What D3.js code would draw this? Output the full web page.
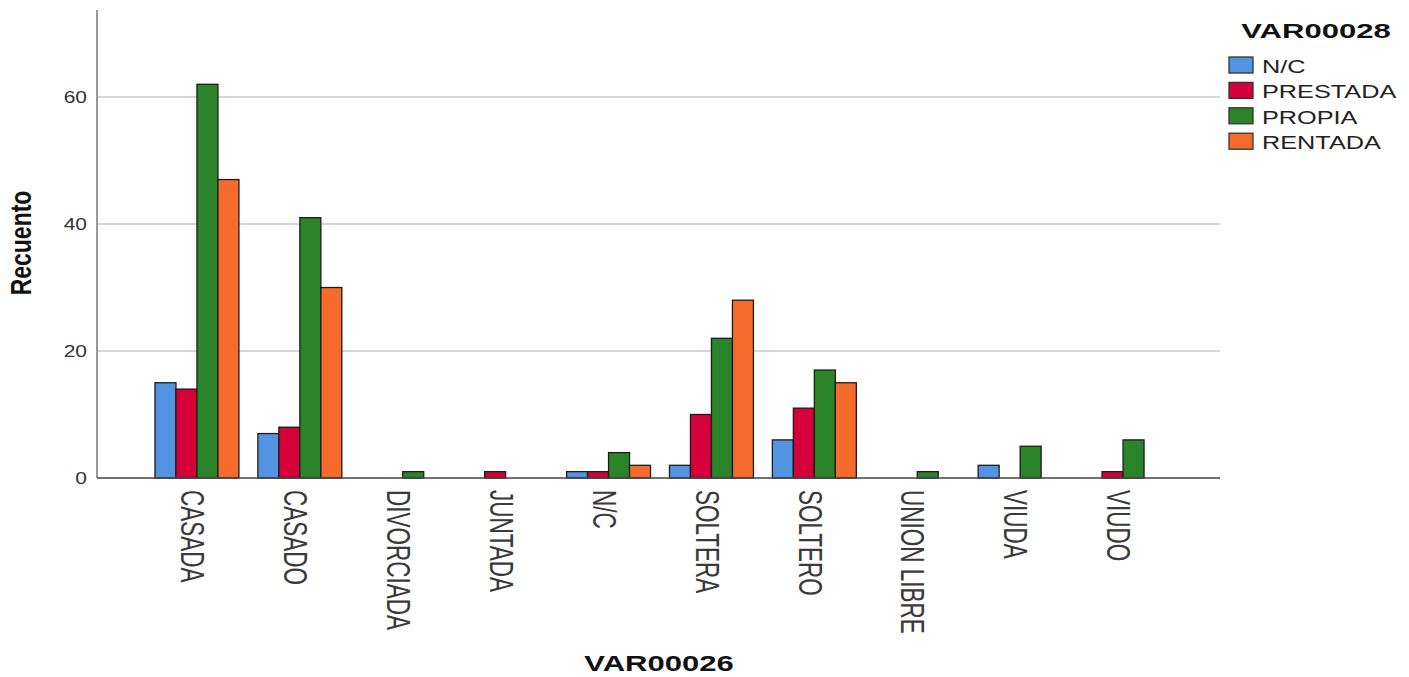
<!DOCTYPE html>
<html lang="en">
<head>
  <meta charset="UTF-8">
  <title>VAR00026 x VAR00028</title>
  <script src="https://d3js.org/d3.v7.min.js"></script>
  <style>
    body { margin: 0; background: #fff; }
    svg { display: block; font-family: "Liberation Sans", Arial, sans-serif; }
    .grid { stroke: #c8c8c8; stroke-width: 1.5; }
    .tick-label { fill: #333; font-size: 16px; }
    .cat-label { fill: #3a3a3a; font-size: 22.5px; }
    .bar { stroke: #1c1c1c; stroke-width: 1.3; }
  </style>
</head>
<body>
  <svg width="1409" height="677"></svg>
  <script>
    // data
    const categories = ["CASADA", "CASADO", "DIVORCIADA", "JUNTADA", "N/C", "SOLTERA", "SOLTERO", "UNION LIBRE", "VIUDA", "VIUDO"];
    const seriesNames = ["N/C", "PRESTADA", "PROPIA", "RENTADA"];
    const nc       = [15, 7, 0, 0, 1, 2, 6, 0, 2, 0];
    const prestada = [14, 8, 0, 1, 1, 10, 11, 0, 0, 1];
    const propia   = [62, 41, 1, 0, 4, 22, 17, 1, 5, 6];
    const rentada  = [47, 30, 0, 0, 2, 28, 15, 0, 0, 0];
    const yTicks = [0, 20, 40, 60];
    const colors = ["#5294e2", "#d5003a", "#2b842a", "#f46b2b"];

    const seriesValues = [nc, prestada, propia, rentada];

    const svg = d3.select("svg");

    // plot area
    const plotLeft = 97, plotRight = 1220, plotTop = 10, plotBottom = 478;

    const y = d3.scaleLinear().domain([0, 73.7]).range([plotBottom, plotTop]);

    const x0 = d3.scaleBand()
      .domain(categories)
      .range([145.5, 1174.5])
      .paddingInner(0.184)
      .paddingOuter(0.092);

    const x1 = d3.scaleBand()
      .domain(seriesNames)
      .range([0, x0.bandwidth()]);

    const color = d3.scaleOrdinal().domain(seriesNames).range(colors);

    // gridlines
    svg.append("g")
      .selectAll("line")
      .data(yTicks.filter(d => d > 0))
      .join("line")
      .attr("class", "grid")
      .attr("x1", plotLeft).attr("x2", plotRight)
      .attr("y1", d => y(d)).attr("y2", d => y(d));

    // y axis line
    svg.append("line")
      .attr("x1", plotLeft).attr("x2", plotLeft)
      .attr("y1", plotTop).attr("y2", plotBottom)
      .attr("stroke", "#999").attr("stroke-width", 2);

    // y tick labels (stretched like the original export)
    svg.append("g")
      .selectAll("text")
      .data(yTicks)
      .join("text")
      .attr("class", "tick-label")
      .attr("text-anchor", "end")
      .attr("transform", d => `translate(87,${y(d) + 6}) scale(1.31,1)`)
      .text(d => d);

    // bars
    const rows = categories.map((c, i) => ({
      cat: c,
      vals: seriesNames.map((s, j) => ({ key: s, value: seriesValues[j][i] }))
    }));

    svg.append("g")
      .selectAll("g")
      .data(rows)
      .join("g")
      .attr("transform", d => `translate(${x0(d.cat)},0)`)
      .selectAll("rect")
      .data(d => d.vals.filter(v => v.value > 0))
      .join("rect")
      .attr("class", "bar")
      .attr("x", d => x1(d.key))
      .attr("width", x1.bandwidth())
      .attr("y", d => y(d.value))
      .attr("height", d => y(0) - y(d.value))
      .attr("fill", d => color(d.key));

    // x axis baseline
    svg.append("line")
      .attr("x1", plotLeft).attr("x2", plotRight)
      .attr("y1", plotBottom).attr("y2", plotBottom)
      .attr("stroke", "#444").attr("stroke-width", 1.5);

    // category labels, rotated
    svg.append("g")
      .selectAll("text")
      .data(categories)
      .join("text")
      .attr("class", "cat-label")
      .attr("dominant-baseline", "central")
      .attr("transform", d => `translate(${x0(d) + x0.bandwidth() / 2 - 4},490) rotate(90) scale(1,1.5)`)
      .text(d => d);

    // axis titles
    svg.append("text")
      .attr("font-size", 23).attr("font-weight", "bold").attr("fill", "#111")
      .attr("text-anchor", "middle").attr("dominant-baseline", "central")
      .attr("transform", "translate(21,243) rotate(-90) scale(1,1.3)")
      .text("Recuento");

    svg.append("text")
      .attr("font-size", 22).attr("font-weight", "bold").attr("fill", "#111")
      .attr("text-anchor", "middle")
      .attr("transform", "translate(659,671) scale(1.41,1)")
      .text("VAR00026");

    // legend
    svg.append("text")
      .attr("font-size", 21).attr("font-weight", "bold").attr("fill", "#111")
      .attr("text-anchor", "middle")
      .attr("transform", "translate(1316,38) scale(1.48,1)")
      .text("VAR00028");

    const legend = svg.append("g")
      .selectAll("g")
      .data(seriesNames)
      .join("g")
      .attr("transform", (d, i) => `translate(1229,${57 + i * 25.4})`);

    legend.append("rect")
      .attr("width", 24).attr("height", 16)
      .attr("fill", d => color(d))
      .attr("stroke", "#333").attr("stroke-width", 1.3);

    legend.append("text")
      .attr("font-size", 19).attr("fill", "#222")
      .attr("transform", "translate(33,16) scale(1.33,1)")
      .text(d => d);
  </script>
</body>
</html>
